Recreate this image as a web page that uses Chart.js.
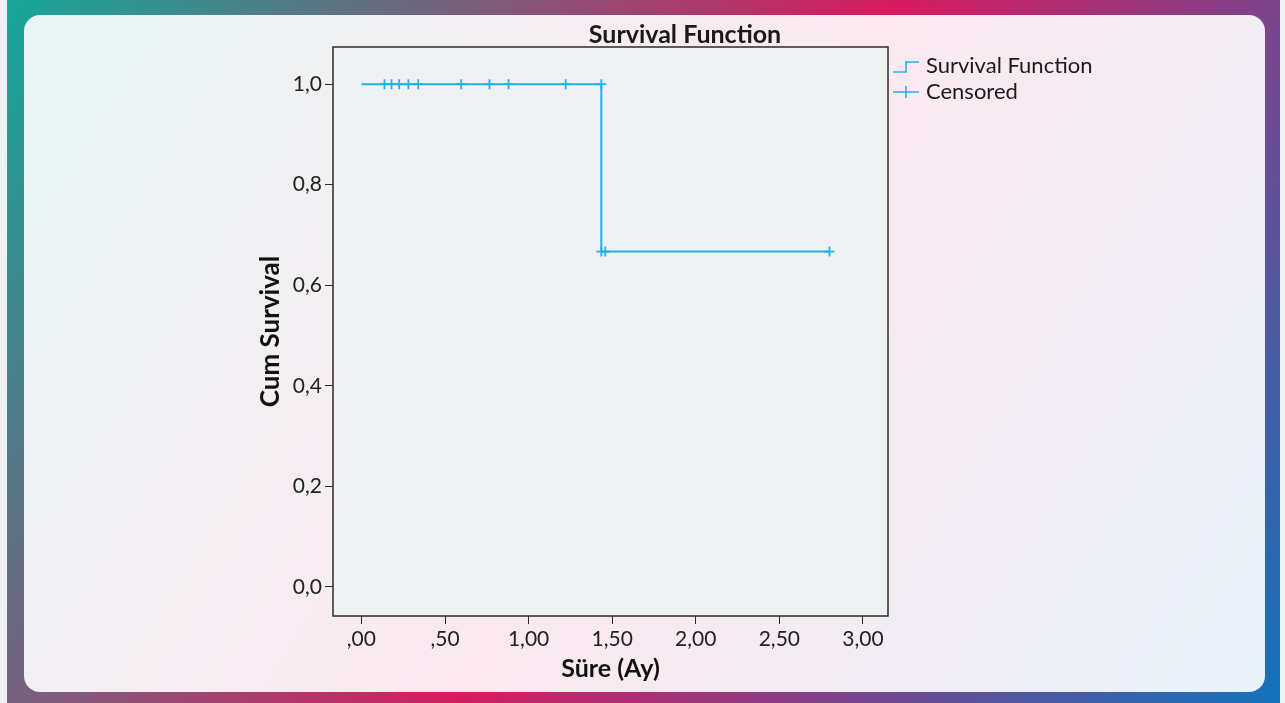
<!DOCTYPE html>
<html>
<head>
<meta charset="utf-8">
<script src="https://cdn.jsdelivr.net/npm/chart.js@4.4.1/dist/chart.umd.min.js"></script>
<style>
  html, body { margin: 0; padding: 0; }
  body { width: 1285px; height: 703px; background: #eff1f1; position: relative; overflow: hidden; }
  .frame {
    position: absolute; left: 7px; top: 0; width: 1273px; height: 703px;
    background: linear-gradient(122deg, #14a89a 0%, #d81b60 52%, #1273bd 100%);
  }
  .card {
    position: absolute; left: 17px; top: 15px; width: 1241px; height: 677px;
    border-radius: 16px; background: rgba(255, 255, 255, 0.9);
  }
  .wrap { position: absolute; left: 0; top: 0; width: 1285px; height: 703px; }
</style>
</head>
<body>
<div class="frame"><div class="card"></div></div>
<div class="wrap"><canvas id="survivalChart"></canvas></div>
<script>
// Kaplan-Meier step: time (months) and cumulative survival
const stepTimes = [0, 1.435, 2.80];
const stepSurvival = [1, 0.667, 0.667];

// censored cases
const censorTimes = [0.138, 0.18, 0.226, 0.281, 0.34, 0.597, 0.766, 0.88, 1.222, 1.435, 1.435, 1.459, 2.80];
const censorSurvival = [1, 1, 1, 1, 1, 1, 1, 1, 1, 1, 0.667, 0.667, 0.667];

const xTicks = [0, 0.5, 1, 1.5, 2, 2.5, 3];
const yTicks = [0, 0.2, 0.4, 0.6, 0.8, 1];

const lineColor = '#22b2ea';
const fontFamily = 'Lato, "Open Sans", sans-serif';

const toPoints = (xs, ys) => xs.map((x, i) => ({ x: x, y: ys[i] }));

// plot background and frame around the chart area
const plotFrame = {
    id: 'plotFrame',
    beforeDraw(chart) {
        const { ctx, chartArea: a } = chart;
        ctx.save();
        ctx.fillStyle = '#f0f1f3';
        ctx.fillRect(a.left, a.top, a.right - a.left, a.bottom - a.top);
        ctx.restore();
    },
    afterDraw(chart) {
        const { ctx, chartArea: a } = chart;
        ctx.save();
        ctx.strokeStyle = '#2b2b2b';
        ctx.lineWidth = 1.5;
        ctx.strokeRect(a.left, a.top, a.right - a.left, a.bottom - a.top);
        ctx.restore();
    }
};

// title and legend drawn beside the plot
const titleLegend = {
    id: 'titleLegend',
    afterDraw(chart) {
        const { ctx } = chart;
        ctx.save();
        ctx.fillStyle = '#1a1a1a';
        ctx.textBaseline = 'middle';
        ctx.textAlign = 'center';
        ctx.font = 'bold 25px ' + fontFamily;
        ctx.fillText('Survival Function', 685, 35);

        ctx.textAlign = 'left';
        ctx.font = '22px ' + fontFamily;
        ctx.strokeStyle = lineColor;
        ctx.lineWidth = 1.6;

        // step icon
        ctx.beginPath();
        ctx.moveTo(893, 72);
        ctx.lineTo(906, 72);
        ctx.lineTo(906, 62);
        ctx.lineTo(919, 62);
        ctx.stroke();
        ctx.fillText('Survival Function', 926, 66);

        // cross icon
        ctx.beginPath();
        ctx.moveTo(893, 92);
        ctx.lineTo(919, 92);
        ctx.moveTo(906, 86);
        ctx.lineTo(906, 98);
        ctx.stroke();
        ctx.fillText('Censored', 926, 92);
        ctx.restore();
    }
};

const commaLabel = (digits, dropZero) => (v) => {
    let s = Number(v).toFixed(digits).replace('.', ',');
    if (dropZero && s.startsWith('0,')) s = s.slice(1);
    return s;
};

const ctx = document.getElementById('survivalChart').getContext('2d');
const survivalChart = new Chart(ctx, {
    type: 'scatter',
    data: {
        datasets: [{
            label: 'Survival Function',
            data: toPoints(stepTimes, stepSurvival),
            showLine: true,
            stepped: 'before',
            borderColor: lineColor,
            borderWidth: 2,
            pointRadius: 0,
            fill: false
        }, {
            label: 'Censored',
            data: toPoints(censorTimes, censorSurvival),
            showLine: false,
            pointStyle: 'cross',
            pointRadius: 5,
            pointBorderWidth: 1.8,
            borderColor: lineColor,
            backgroundColor: lineColor
        }]
    },
    options: {
        responsive: true,
        maintainAspectRatio: false,
        animation: false,
        layout: {
            padding: { left: 255, top: 47, right: 397, bottom: 7 }
        },
        plugins: {
            legend: { display: false },
            title: { display: false },
            tooltip: { enabled: false }
        },
        scales: {
            x: {
                type: 'linear',
                min: -0.17,
                max: 3.15,
                afterBuildTicks: (axis) => { axis.ticks = xTicks.map(v => ({ value: v })); },
                afterFit: (axis) => { axis.height = 80; },
                grid: { drawOnChartArea: false, drawTicks: true, tickLength: 8, color: '#2b2b2b', lineWidth: 1 },
                border: { display: false },
                ticks: {
                    color: '#222',
                    font: { family: fontFamily, size: 21 },
                    padding: 3,
                    maxRotation: 0,
                    callback: commaLabel(2, true)
                },
                title: {
                    display: true,
                    text: 'Süre (Ay)',
                    color: '#111',
                    font: { family: fontFamily, size: 25, weight: 'bold' },
                    padding: { top: 0, bottom: 12 }
                }
            },
            y: {
                type: 'linear',
                min: -0.058,
                max: 1.074,
                afterBuildTicks: (axis) => { axis.ticks = yTicks.map(v => ({ value: v })); },
                afterFit: (axis) => { axis.width = 78; },
                grid: { drawOnChartArea: false, drawTicks: true, tickLength: 8, color: '#2b2b2b', lineWidth: 1 },
                border: { display: false },
                ticks: {
                    color: '#222',
                    font: { family: fontFamily, size: 21 },
                    padding: 3,
                    callback: commaLabel(1, false)
                },
                title: {
                    display: true,
                    text: 'Cum Survival',
                    color: '#111',
                    font: { family: fontFamily, size: 26, weight: 'bold' },
                    padding: { top: 0, bottom: 0 }
                }
            }
        }
    },
    plugins: [plotFrame, titleLegend]
});
</script>
</body>
</html>
